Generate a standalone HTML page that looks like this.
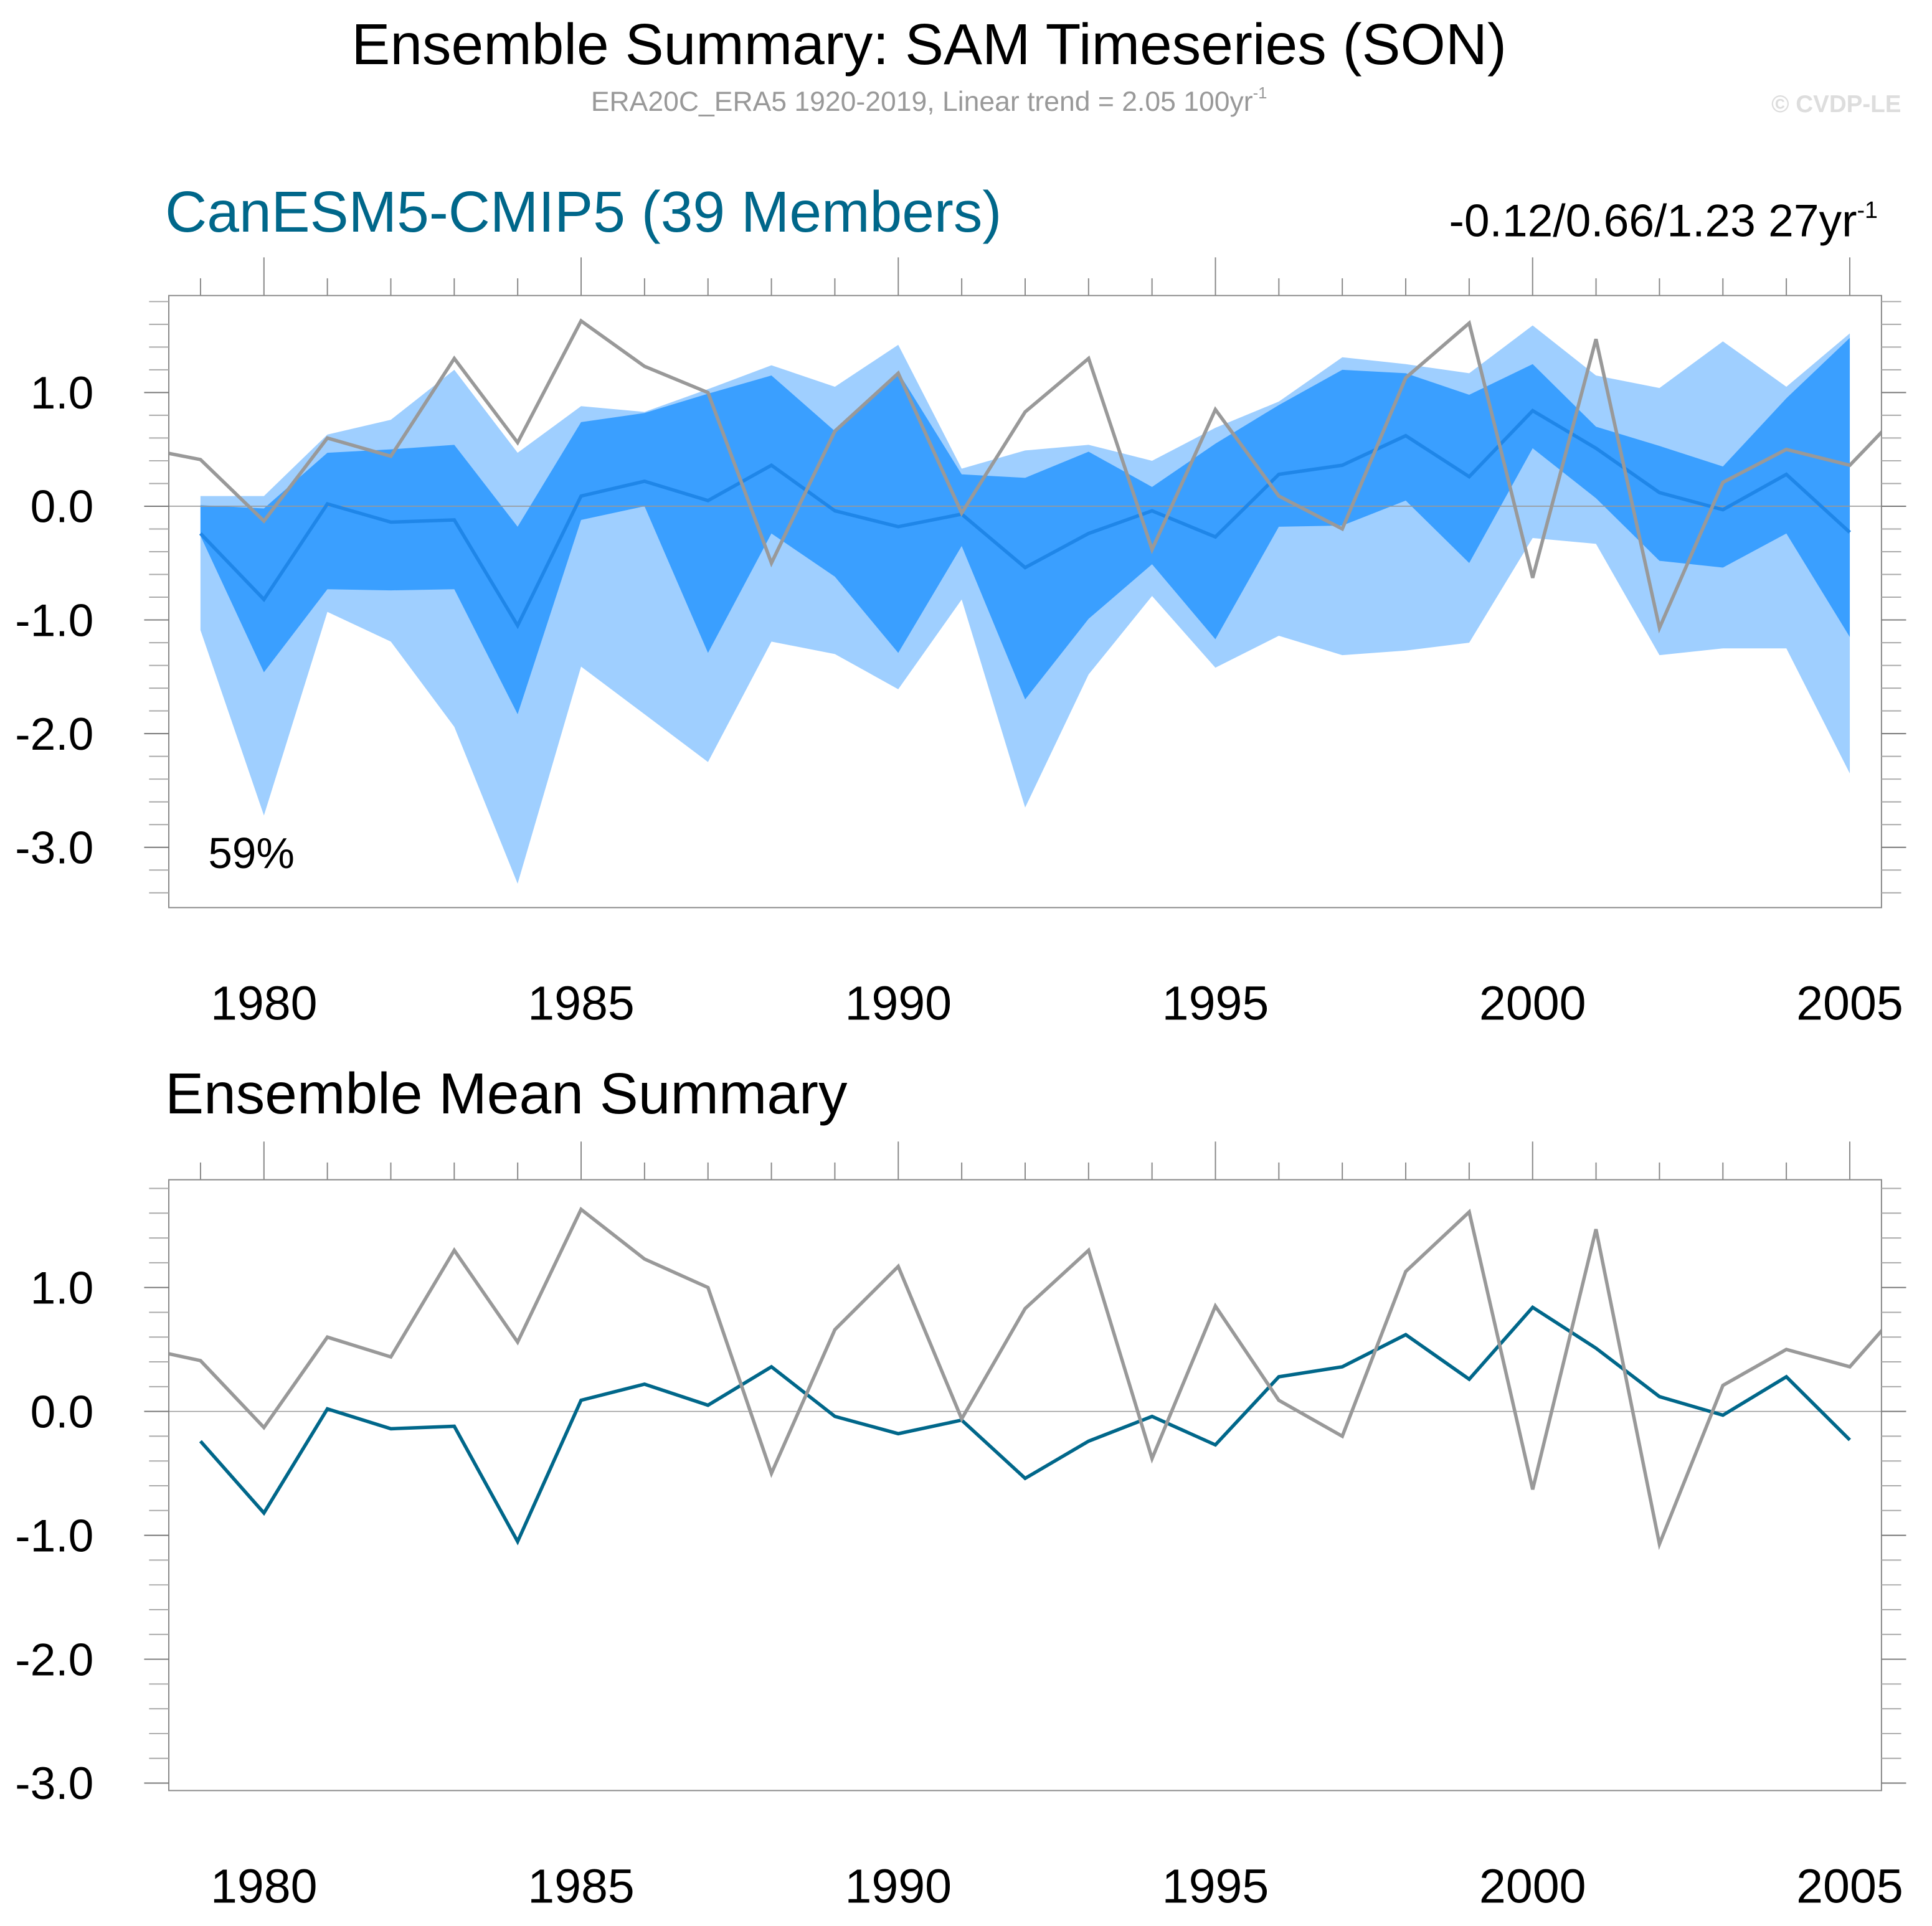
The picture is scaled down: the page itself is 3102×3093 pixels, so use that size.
<!DOCTYPE html>
<html><head><meta charset="utf-8"><style>
html,body{margin:0;padding:0;background:#fff;}
svg{display:block;font-family:"Liberation Sans",sans-serif;}
</style></head><body>
<svg id="chart" width="3102" height="3093" viewBox="0 0 1568 1564" preserveAspectRatio="none" xmlns="http://www.w3.org/2000/svg">
<text x="754" y="52" font-size="47" text-anchor="middle">Ensemble Summary: SAM Timeseries (SON)</text>
<text x="754" y="90" font-size="22.5" fill="#999" text-anchor="middle">ERA20C_ERA5 1920-2019, Linear trend = 2.05 100yr<tspan font-size="13" dy="-10">-1</tspan></text>
<text x="1543" y="91" font-size="19.5" font-weight="bold" fill="#ddd" text-anchor="end">© CVDP-LE</text>
<text x="134" y="188" font-size="47" fill="#00678a">CanESM5-CMIP5 (39 Members)</text>
<text x="1524" y="192" font-size="37" text-anchor="end">-0.12/0.66/1.23 27yr<tspan font-size="19" dy="-15">-1</tspan></text>
<text x="134" y="904" font-size="47">Ensemble Mean Summary</text>
<g id="p1"></g>
<g id="p2"></g>
</svg>
<script>
const years=[1979,1980,1981,1982,1983,1984,1985,1986,1987,1988,1989,1990,1991,1992,1993,1994,1995,1996,1997,1998,1999,2000,2001,2002,2003,2004,2005];
const ensMean=[-0.24,-0.82,0.02,-0.14,-0.12,-1.05,0.09,0.22,0.05,0.36,-0.04,-0.18,-0.07,-0.54,-0.24,-0.04,-0.27,0.28,0.36,0.62,0.26,0.84,0.51,0.12,-0.03,0.28,-0.23];
const outerMax=[0.09,0.09,0.63,0.76,1.20,0.47,0.88,0.83,1.03,1.24,1.05,1.42,0.33,0.49,0.54,0.40,0.69,0.92,1.31,1.25,1.17,1.59,1.15,1.04,1.45,1.05,1.52];
const outerMin=[-1.09,-2.72,-0.93,-1.19,-1.94,-3.32,-1.41,-1.83,-2.25,-1.19,-1.30,-1.61,-0.82,-2.65,-1.48,-0.79,-1.42,-1.14,-1.31,-1.27,-1.20,-0.28,-0.33,-1.31,-1.25,-1.25,-2.35];
const innerMax=[0.01,-0.02,0.47,0.50,0.54,-0.18,0.74,0.82,0.99,1.15,0.66,1.18,0.28,0.25,0.48,0.17,0.55,0.89,1.20,1.17,0.98,1.25,0.70,0.53,0.35,0.95,1.48];
const innerMin=[-0.26,-1.46,-0.73,-0.74,-0.73,-1.83,-0.12,0.00,-1.29,-0.24,-0.62,-1.29,-0.35,-1.70,-0.99,-0.51,-1.17,-0.18,-0.17,0.05,-0.50,0.51,0.07,-0.48,-0.54,-0.24,-1.15];
const obsYears=[1978,1979,1980,1981,1982,1983,1984,1985,1986,1987,1988,1989,1990,1991,1992,1993,1994,1995,1996,1997,1998,1999,2000,2001,2002,2003,2004,2005,2006];
const obs=[0.52,0.41,-0.13,0.60,0.44,1.30,0.56,1.63,1.23,1.00,-0.50,0.66,1.17,-0.06,0.83,1.30,-0.38,0.85,0.09,-0.20,1.13,1.61,-0.63,1.47,-1.07,0.21,0.50,0.36,0.94];
const yTicks=[1.0,0.0,-1.0,-2.0,-3.0];
const xTicks=[1980,1985,1990,1995,2000,2005];

const NS="http://www.w3.org/2000/svg";
function mk(parent,tag,attrs){const e=document.createElementNS(NS,tag);for(const k in attrs)e.setAttribute(k,attrs[k]);parent.appendChild(e);return e;}
function panel(g,id,top,bot,ymax,ymin,full){
  const L=137,R=1527,x0=1978.5,x1=2005.5;
  const X=v=>L+(v-x0)/(x1-x0)*(R-L);
  const Y=v=>top+(ymax-v)/(ymax-ymin)*(bot-top);
  const cp=mk(g,'clipPath',{id:id});mk(cp,'rect',{x:L,y:top,width:R-L,height:bot-top});
  const pts=(xs,ys)=>xs.map((x,i)=>X(x).toFixed(1)+','+Y(ys[i]).toFixed(1));
  const rev=a=>a.slice().reverse();
  if(full){
    const o=mk(g,'polygon',{points:pts(years,outerMax).concat(rev(pts(years,outerMin))).join(' '),fill:'#9fcfff','clip-path':'url(#'+id+')'});
    
    
    const n=mk(g,'polygon',{points:pts(years,innerMax).concat(rev(pts(years,innerMin))).join(' '),fill:'#3a9fff','clip-path':'url(#'+id+')'});
    
    
  }
  const z=mk(g,'line',{x1:L,x2:R,y1:Y(0),y2:Y(0),stroke:'#999','stroke-width':0.8});
  
  
  const m=mk(g,'polyline',{points:pts(years,ensMean).join(' '),fill:'none',stroke:full?'#1f86e8':'#00678a','stroke-width':2.8,'clip-path':'url(#'+id+')'});
  
  
  const ob=mk(g,'polyline',{points:pts(obsYears,obs).join(' '),fill:'none',stroke:'#999','stroke-width':2.8,'clip-path':'url(#'+id+')'});
  
  
  const fr=mk(g,'rect',{x:L,y:top,width:R-L,height:bot-top,fill:'none',stroke:'#888','stroke-width':1});
  
  
  for(let v=-4;v<=2.001;v+=0.2){
    const vv=Math.round(v*10)/10; if(vv>ymax||vv<ymin)continue;
    const major=Math.abs(vv-Math.round(vv))<1e-6;
    const len=major?20:16;
    mk(g,'line',{x1:L-len,x2:L,y1:Y(vv),y2:Y(vv),stroke:major?'#777':'#aaa','stroke-width':1});
    mk(g,'line',{x1:R,x2:R+len,y1:Y(vv),y2:Y(vv),stroke:major?'#777':'#aaa','stroke-width':1});
  }
  yTicks.forEach(v=>{
    const t=mk(g,'text',{x:76,y:Y(v)+13,'font-size':37,'text-anchor':'end'});
    t.textContent=v.toFixed(1);
    
    
  });
  for(let yr=1979;yr<=2005;yr++){
    const major=yr%5===0;
    mk(g,'line',{x1:X(yr),x2:X(yr),y1:top-(major?31:14),y2:top,stroke:'#888','stroke-width':1});
  }
  xTicks.forEach(yr=>{
    const t=mk(g,'text',{x:X(yr),y:bot+91,'font-size':39,'text-anchor':'middle'});
    t.textContent=yr;
    
    
  });
  if(full){
    const p=mk(g,'text',{x:169,y:705,'font-size':35});
    p.textContent='59%';
    
    
  }
}
panel(document.getElementById('p1'),'c1',240,737,1.853,-3.53,true);
panel(document.getElementById('p2'),'c2',958,1454,1.87,-3.06,false);
</script>
</body></html>
